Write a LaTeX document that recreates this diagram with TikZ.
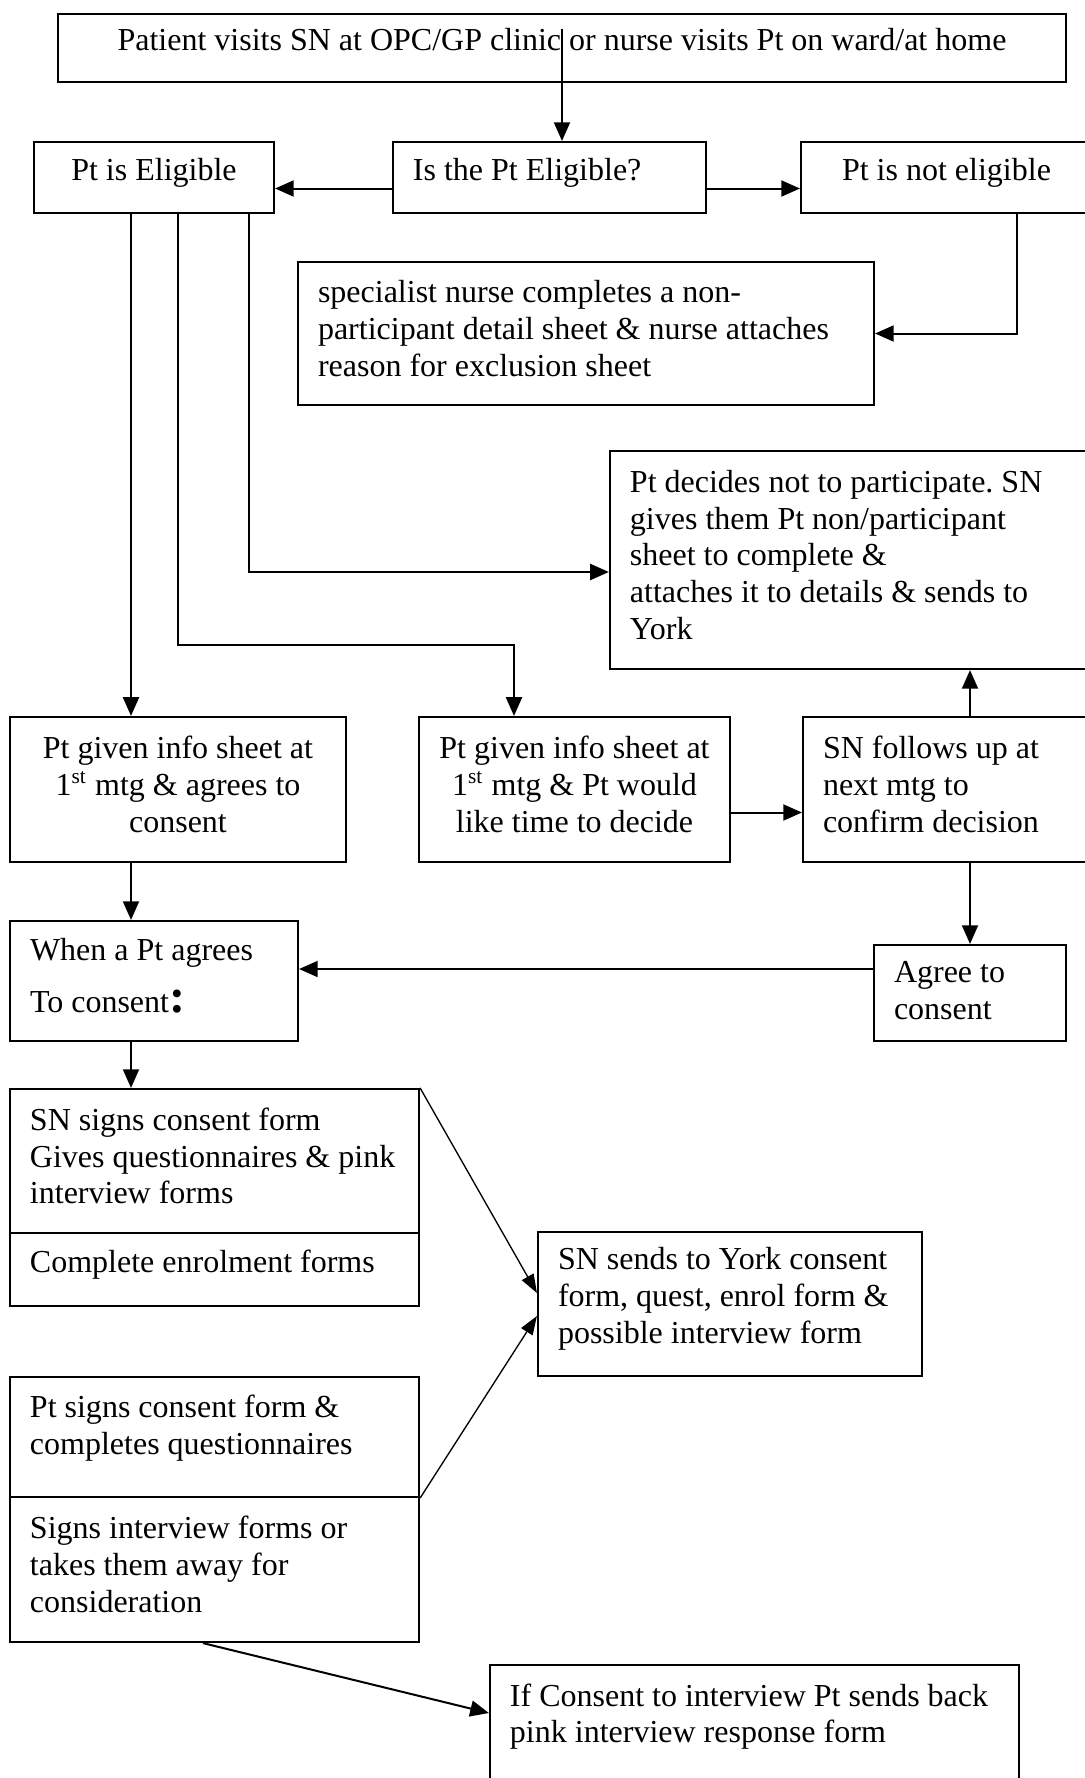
\documentclass[tikz,border=0pt]{standalone}
\usepackage{fontspec}
\setmainfont{Liberation Serif}
\usetikzlibrary{calc,arrows.meta}
\newcommand{\boxlift}{3.8pt}

\begin{document}
\begin{tikzpicture}[x=0.375pt,y=-0.375pt,
    box/.style={rectangle,draw,line width=0.8pt,inner xsep=7.5pt,inner ysep=0pt,
                font=\fontsize{12}{13.8}\selectfont\frenchspacing,
                execute at end node={\endgraf\kern\boxlift}},
    lift/.code={\def\boxlift{#1}},
    cbox/.style={box,align=flush center,text width=#1},
    lbox/.style={box,align=flush left,text width=#1,
                 execute at begin node={\rightskip=0pt plus 1fil minus 60pt}},
    arr/.style={line width=0.75pt,-{Triangle[length=7pt,width=6pt]}},
    thinarr/.style={line width=0.5pt,-{Triangle[length=7pt,width=5pt]}}]
  \useasboundingbox (0,0) rectangle (1085,1778);

  \node[cbox=363pt,lift=6pt,minimum width=378pt,minimum height=25.5pt] (visit) at (562,48)
    {Patient visits SN at OPC/GP clinic or nurse visits Pt on ward/at home};
  \node[cbox=75pt,minimum width=90pt,minimum height=26.6pt] (yes) at (154,177.5) {Pt is Eligible};
  \node[lbox=102.4pt,minimum height=26.6pt] (elig) at (549.5,177.5) {Is the Pt Eligible?};
  \node[cbox=94.1pt,minimum width=109.1pt,minimum height=26.6pt] (no) at (946.5,177.5) {Pt is not eligible};
  \node[lbox=201pt,minimum height=53.6pt] (nonpart) at (586,333.5)
    {specialist nurse completes a non-\\participant detail sheet \& nurse attaches\\reason for exclusion sheet};
  \node[lbox=166.9pt,minimum height=81.75pt] (decline) at (852.5,560)
    {Pt decides not to participate. SN\\gives them Pt non/participant\\sheet to complete \&\\attaches it to details \& sends to\\York};
  \node[cbox=111pt,minimum width=126pt,minimum height=54.4pt] (info1) at (178,789.5)
    {Pt given info sheet at\\1\textsuperscript{st} mtg \& agrees to\\consent};
  \node[cbox=101.6pt,minimum width=116.6pt,minimum height=54.4pt] (info2) at (574.5,789.5)
    {Pt given info sheet at\\1\textsuperscript{st} mtg \& Pt would\\like time to decide};
  \node[lbox=94.5pt,minimum height=54.4pt] (follow) at (949,789.5)
    {SN follows up at\\next mtg to\\confirm decision};
  \node[lbox=93pt,minimum height=45pt] (agrees) at (154,981)
    {When a Pt agrees\\[5.7pt]To consent{\fontsize{18}{18}\selectfont\bfseries :}};
  \node[lbox=57pt,lift=2pt,minimum height=36pt] (agree) at (970,993) {Agree to\\consent};
  \node[lbox=138.4pt,minimum height=54pt] (snsign) at (214.5,1161)
    {SN signs consent form\\Gives questionnaires \& pink\\interview forms};
  \node[lbox=138.4pt,minimum height=27.4pt] (enrol) at (214.5,1269.5) {Complete enrolment forms};
  \node[lbox=129pt,minimum height=54pt] (york) at (730,1304)
    {SN sends to York consent\\form, quest, enrol form \&\\possible interview form};
  \node[lbox=138.4pt,lift=6.8pt,minimum height=45pt] (ptsign) at (214.5,1437)
    {Pt signs consent form \&\\completes questionnaires};
  \node[lbox=138.4pt,minimum height=54.4pt] (interv) at (214.5,1569.5)
    {Signs interview forms or\\takes them away for\\consideration};
  \node[lbox=183.4pt,lift=8.2pt,minimum height=46.9pt] (pink) at (754.5,1727.5)
    {If Consent to interview Pt sends back\\pink interview response form};

  \coordinate (colA) at (131,0);
  \coordinate (colB) at (178,0);
  \coordinate (colC) at (249,0);
  \coordinate (colE) at (1017,0);
  \coordinate (bend) at (514,645);

  \draw[arr] ($(visit.north)+(0,16)$) -- (visit.north |- elig.north);
  \draw[arr] ($(elig.west)+(0,11)$) -- ($(yes.east)+(0,11)$);
  \draw[arr] ($(elig.east)+(0,11)$) -- ($(no.west)+(0,11)$);
  \draw[arr] (colE |- no.south) |- (nonpart.east);
  \draw[arr] (colA |- yes.south) -- (colA |- info1.north);
  \draw[arr] (colB |- yes.south) |- (bend) -- (bend |- info2.north);
  \draw[arr] (colC |- yes.south) |- ($(decline.west)+(0,12)$);
  \draw[arr] ($(info2.east)+(0,23)$) -- ($(follow.west)+(0,23)$);
  \draw[arr] (agree.north |- follow.north) -- (agree.north |- decline.south);
  \draw[arr] (agree.north |- follow.south) -- (agree.north);
  \draw[arr] (colA |- info1.south) -- (colA |- agrees.north);
  \draw[arr] ($(agree.west)+(0,-24)$) -- ($(agrees.east)+(0,-12)$);
  \draw[arr] (colA |- agrees.south) -- (colA |- snsign.north);
  \draw[thinarr] (snsign.north east) -- ($(york.west)+(0,-11)$);
  \draw[thinarr] (ptsign.south east) -- ($(york.west)+(0,12)$);
  \draw[arr] ($(interv.south)+(-11.5,0)$) -- ($(pink.west)+(0,-14.5)$);
\end{tikzpicture}
\end{document}
